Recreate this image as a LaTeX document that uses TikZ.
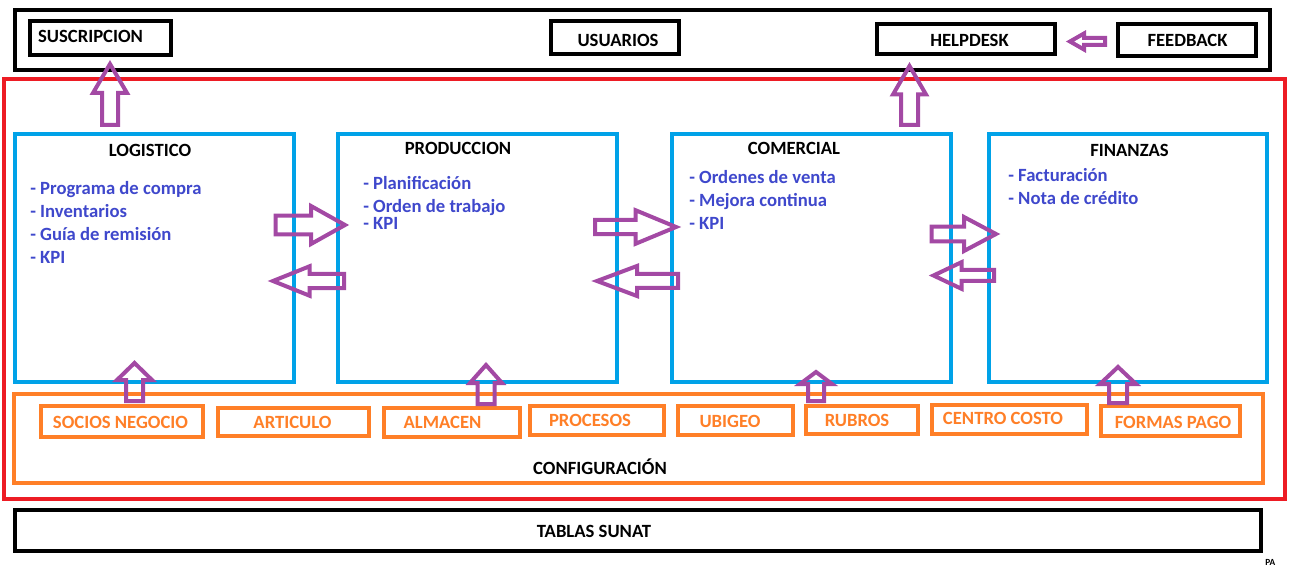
\documentclass[tikz,border=0pt]{standalone}
\usepackage{fontspec}
\setmainfont{Carlito}
\definecolor{cblue}{HTML}{00A2E8}
\definecolor{cred}{HTML}{ED1C24}
\definecolor{corange}{HTML}{FF7F27}
\definecolor{cpurple}{HTML}{A349A4}
\definecolor{ctext}{HTML}{3F48CC}
\newcommand\boxnode[6][]{\node[#1, minimum width={(#5-#3)*0.75pt}, minimum height={(#6-#4)*0.75pt}] (#2) at ({(#3+#5)/2},{(#4+#6)/2}) {};}
% horizontal block arrow: tail x, tip x, y, head base x, shaft half, head half
\newcommand\harr[6]{\draw[blockarrow] (#1,#3-#5) -- (#4,#3-#5) -- (#4,#3-#6) -- (#2,#3) -- (#4,#3+#6) -- (#4,#3+#5) -- (#1,#3+#5) -- cycle;}
% vertical block arrow: x, tail y, tip y, head base y, shaft half, head half
\newcommand\varr[6]{\draw[blockarrow] (#1-#5,#2) -- (#1-#5,#4) -- (#1-#6,#4) -- (#1,#3) -- (#1+#6,#4) -- (#1+#5,#4) -- (#1+#5,#2) -- cycle;}
\begin{document}
\begin{tikzpicture}[x=0.75pt,y=-0.75pt,
  frame/.style={draw, rectangle, inner sep=0pt, outer sep=0pt, line width=3pt},
  blackbox/.style={frame, draw=black},
  redbox/.style={frame, draw=cred},
  bluebox/.style={frame, draw=cblue},
  orangebox/.style={frame, draw=corange},
  blockarrow/.style={draw=cpurple, line width=3pt, line join=miter},
  ttl/.style={inner sep=0pt, yshift=-0.8pt, font=\bfseries\fontsize{14}{16}\selectfont, text=black},
  item/.style={inner sep=0pt, yshift=-0.8pt, anchor=base west, font=\bfseries\fontsize{14}{16}\selectfont, text=ctext},
  otxt/.style={inner sep=0pt, yshift=-0.8pt, anchor=base, font=\bfseries\fontsize{14}{16}\selectfont, text=corange}]
\useasboundingbox (0,0) rectangle (1299,577);
\fill[white] (0,0) rectangle (1299,577);
% top bar
\boxnode[blackbox]{usuarios-bar}{15}{10}{1269.5}{70}
\boxnode[blackbox]{susc}{30.3}{21.3}{171.3}{55.3}
\boxnode[blackbox]{usu}{551}{21.5}{679}{54}
\boxnode[blackbox]{help}{877}{23.7}{1055}{54}
\boxnode[blackbox]{feed}{1117.7}{23.7}{1256.3}{56.3}
\node[ttl, anchor=base] (susc-t) at (90.5,41) {SUSCRIPCION};
\node[ttl, anchor=base] (usu-t) at (618,45) {USUARIOS};
\node[ttl, anchor=base] (help-t) at (969.5,45) {HELPDESK};
\node[ttl, anchor=base] (feed-t) at (1187.5,45) {FEEDBACK};
% red container
\boxnode[redbox]{sistema}{4}{79}{1285}{499}
% module boxes
\boxnode[bluebox]{log}{15}{134}{293.5}{382}
\boxnode[bluebox]{prod}{337.5}{134}{616.5}{382}
\boxnode[bluebox]{com}{671.5}{134}{950.5}{382}
\boxnode[bluebox]{fin}{988.5}{134}{1267}{382}
\node[ttl, anchor=base] (log-t) at (150,155) {LOGISTICO};
\node[ttl, anchor=base] (prod-t) at (458,153) {PRODUCCION};
\node[ttl, anchor=base] (com-t) at (794,153) {COMERCIAL};
\node[ttl, anchor=base] (fin-t) at (1129.5,155) {FINANZAS};
\node[item] (log-1) at (30,193) {- Programa de compra};
\node[item] (log-2) at (30,216) {- Inventarios};
\node[item] (log-3) at (30,239) {- Guía de remisión};
\node[item] (log-4) at (30,262) {- KPI};
\node[item] (prod-1) at (363,188) {- Planificación};
\node[item] (prod-2) at (363,211) {- Orden de trabajo};
\node[item] (prod-3) at (363,228) {- KPI};
\node[item] (com-1) at (689,182) {- Ordenes de venta};
\node[item] (com-2) at (689,205) {- Mejora continua};
\node[item] (com-3) at (689,228) {- KPI};
\node[item] (fin-1) at (1008,180) {- Facturación};
\node[item] (fin-2) at (1008,203) {- Nota de crédito};
% configuration
\boxnode[orangebox]{config}{14}{394}{1263}{483}
\boxnode[orangebox]{socios}{41}{406}{203}{437}
\boxnode[orangebox]{articulo}{218}{408}{369}{436}
\boxnode[orangebox]{almacen}{384}{408}{520}{437}
\boxnode[orangebox]{procesos}{530}{406}{664}{435}
\boxnode[orangebox]{ubigeo}{678}{406}{793}{435}
\boxnode[orangebox]{rubros}{806}{406}{918}{434}
\boxnode[orangebox]{ccosto}{932}{405}{1087}{434}
\boxnode[orangebox]{fpago}{1101}{406}{1240}{436}
\node[otxt] (socios-t) at (120.5,427) {SOCIOS NEGOCIO};
\node[otxt] (articulo-t) at (292.5,427) {ARTICULO};
\node[otxt] (almacen-t) at (442.5,427) {ALMACEN};
\node[otxt] (procesos-t) at (590,425) {PROCESOS};
\node[otxt] (ubigeo-t) at (730,426) {UBIGEO};
\node[otxt] (rubros-t) at (857,425) {RUBROS};
\node[otxt] (ccosto-t) at (1003,423) {CENTRO COSTO};
\node[otxt] (fpago-t) at (1173,427) {FORMAS PAGO};
\node[ttl, anchor=base] (config-t) at (600,473) {CONFIGURACIÓN};
% tablas sunat
\boxnode[blackbox]{sunat}{15}{509.5}{1261}{550.5}
\node[ttl, anchor=base] (sunat-t) at (594,536) {TABLAS SUNAT};
\node[inner sep=0pt, anchor=base west, font=\bfseries\fontsize{7}{8}\selectfont] (pa) at (1265,565) {PA};
% arrows
\varr{110}{125}{64}{93}{8}{17}
\varr{909.5}{125}{66}{94.5}{8.5}{16.5}
\harr{1105}{1070}{41.5}{1084}{3.5}{8}
\harr{275.5}{345}{225}{311}{9.3}{19}
\harr{344}{273}{281}{309.5}{7.2}{14.7}
\harr{595}{676}{227}{635.5}{7.2}{16.8}
\harr{678}{597}{281}{637}{7}{15}
\harr{931.5}{996}{234}{964}{7.3}{17}
\harr{994}{933.5}{275.5}{961.5}{5.5}{13.3}
\varr{134.5}{401}{363}{380}{8.5}{17.5}
\varr{486}{404}{365}{383}{8.5}{16}
\varr{816}{401}{372}{384}{8}{16}
\varr{1118}{403}{367}{384}{9}{18}
\end{tikzpicture}
\end{document}
